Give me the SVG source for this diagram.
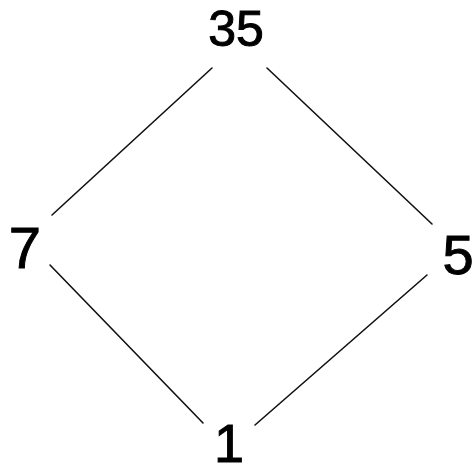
<svg xmlns="http://www.w3.org/2000/svg" width="474" height="470" viewBox="0 0 474 470">
<style>
text{font-family:"Liberation Sans",Arial,sans-serif;fill:#000;stroke:#000;stroke-width:1;text-anchor:middle}
.e line{stroke:#111;stroke-width:1.6;stroke-linecap:round}
</style>
<rect width="474" height="470" fill="#fff"/>
<g class="e" id="connectors">
<line x1="212" y1="68" x2="52" y2="215"/>
<line x1="267" y1="68" x2="432" y2="224"/>
<line x1="50" y1="265" x2="203" y2="423"/>
<line x1="255" y1="425" x2="427" y2="275"/>
</g>
<g id="n35"><text x="236" y="46" font-size="50">35</text></g>
<g id="n7"><text x="25" y="268" font-size="58">7</text></g>
<g id="n5"><text x="458" y="274" font-size="56">5</text></g>
<g id="n1"><text x="229" y="462" font-size="54">1</text></g>
</svg>
